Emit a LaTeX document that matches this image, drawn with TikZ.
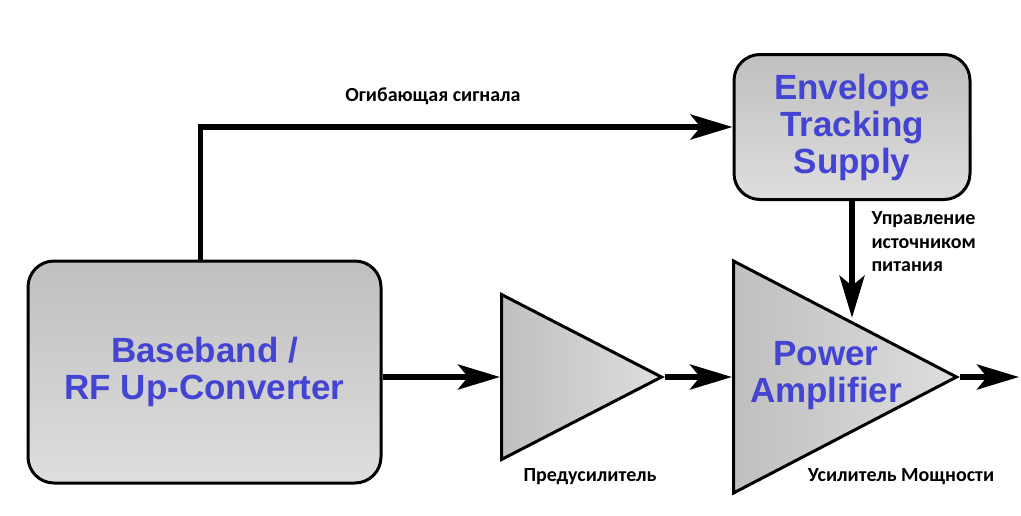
\documentclass[tikz,border=0pt]{standalone}
\usepackage{fontspec}
\setmainfont{Liberation Sans}
\newfontfamily\rusfont{Carlito}
\usetikzlibrary{arrows.meta,shapes.geometric}
\definecolor{blockBlue}{RGB}{68,68,210}
\newcommand{\blocktext}{\fontsize{35}{37}\selectfont\bfseries}
\newcommand{\captext}{\fontsize{20}{23.5}\selectfont\rusfont\bfseries}
\tikzset{
    >={Stealth[length=42pt,width=25pt,inset=10pt]},
    wire/.style={line width=5.5pt},
    block/.style={rectangle,rounded corners=26pt,draw,line width=3pt,top color=black!25,bottom color=black!13,inner sep=0pt,font=\blocktext,text=blockBlue,align=center},
    amp/.style={isosceles triangle,isosceles triangle stretches,draw,line width=3pt,left color=black!25,right color=black!13,inner sep=0pt,anchor=lower side},
    caption/.style={font=\captext,align=left}
}

\begin{document}
\begin{tikzpicture}[x=1pt,y=-1pt]
  \useasboundingbox (0,0) rectangle (1021,515);
  \node[block,minimum width=353pt,minimum height=222pt] (bb) at (204.5,372) {Baseband /\\RF Up-Converter};
  \node[block,minimum width=236pt,minimum height=145pt] (et) at (852,127) {Envelope\\Tracking\\Supply};
  \node[amp,minimum width=165pt,minimum height=160pt] (pre) at (500,377) {};
  \node[amp,minimum width=232pt,minimum height=223pt] (pa) at (732,377) {};
  \node[font=\blocktext,text=blockBlue,align=center] (patext) at (826,376) {Power\\Amplifier};
  \coordinate (out) at (1019,377);

  \draw[wire,->] ([xshift=-4pt]bb.north) |- (et.west);
  \draw[wire,->] (et.south) -- (et.south |- pa.left side);
  \draw[wire,->] (bb.east |- pre.lower side) -- (pre.lower side);
  \draw[wire,->] (pre.apex) -- (pa.lower side);
  \draw[wire,->] (pa.apex) -- (out);

  \node[caption] (envlbl) at (433,96) {Огибающая сигнала};
  \node[caption,anchor=north west] (ctllbl) at (868,208) {Управление\\источником\\питания};
  \node[caption] (prelbl) at (590,477) {Предусилитель};
  \node[caption] (palbl) at (901,477) {Усилитель Мощности};
\end{tikzpicture}
\end{document}
